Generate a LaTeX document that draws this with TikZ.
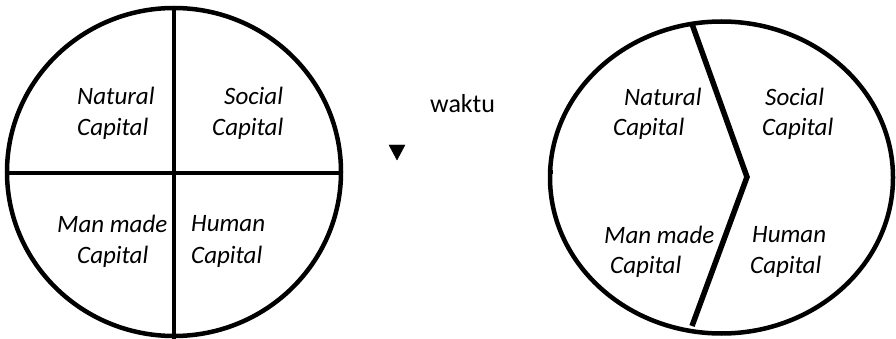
\documentclass[tikz,border=0pt]{standalone}
\usepackage{fontspec}
\setmainfont{Carlito}
\begin{document}
\begin{tikzpicture}[x=1pt,y=-1pt,
    capital/.style={anchor=west,inner sep=0pt,font=\fontsize{25}{29}\selectfont\itshape}]
        \useasboundingbox (0,0) rectangle (896,339);
        % before
        \draw[line width=4.5pt] (174,172) ellipse (167 and 164);
        \draw[line width=4.5pt] (174,8) -- (174,339);
        \draw[line width=4.5pt] (7,173) -- (341,173);
        \node[capital] (n1) at (77,96) {Natural};
        \node[capital] (n2) at (77,129) {Capital};
        \node[capital] (s1) at (224,96) {Social};
        \node[capital] (s2) at (212,129) {Capital};
        \node[capital] (m1) at (57,224) {Man made};
        \node[capital] (m2) at (77,257) {Capital};
        \node[capital] (h1) at (191,224) {Human};
        \node[capital] (h2) at (191,257) {Capital};
        % time
        \node[anchor=west,inner sep=0pt,font=\fontsize{26}{30}\selectfont] (waktu) at (430,104) {waktu};
        \filldraw[black] (389,145) -- (405,145) -- (397,160) -- cycle;
        % after
        \draw[line width=4.5pt] (721.5,177.5) ellipse (171.5 and 156);
        \draw[line width=5.5pt, line join=miter] (692,24) -- (747,177) -- (692,326);
        \draw[line width=3.5pt] (548,172) -- (553,172);
        \node[capital] (rn1) at (624,97) {Natural};
        \node[capital] (rn2) at (613,129) {Capital};
        \node[capital] (rs1) at (765,97) {Social};
        \node[capital] (rs2) at (762,129) {Capital};
        \node[capital] (rm1) at (604,235) {Man made};
        \node[capital] (rm2) at (610,267) {Capital};
        \node[capital] (rh1) at (752,235) {Human};
        \node[capital] (rh2) at (750,267) {Capital};
    \end{tikzpicture}
\end{document}
